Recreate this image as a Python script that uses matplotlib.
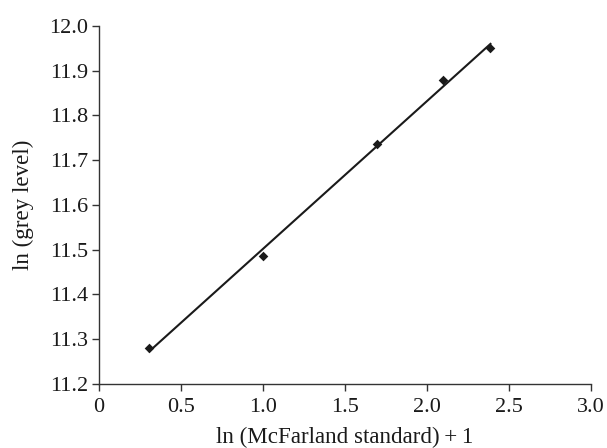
import matplotlib
matplotlib.use("Agg")
import matplotlib.pyplot as plt
import numpy as np

x_vals = [0.307, 1.0, 1.693, 2.099, 2.386]
y_vals = [11.280, 11.486, 11.736, 11.879, 11.950]
x_ticks = [0, 0.5, 1.0, 1.5, 2.0, 2.5, 3.0]
x_tick_labels = ["0", "0.5", "1.0", "1.5", "2.0", "2.5", "3.0"]
y_ticks = [11.2, 11.3, 11.4, 11.5, 11.6, 11.7, 11.8, 11.9, 12.0]
y_tick_labels = ["11.2", "11.3", "11.4", "11.5", "11.6", "11.7", "11.8", "11.9", "12.0"]

plt.rcParams['font.family'] = ['Liberation Serif', 'DejaVu Serif']
fig = plt.figure(figsize=(6.07, 4.48), dpi=100)
ax = fig.add_axes([0.163, 0.143, 0.811, 0.799])

slope, intercept = np.polyfit(x_vals, y_vals, 1)
xf = np.array([x_vals[0], x_vals[-1]])
ax.plot(xf, slope * xf + intercept, color='#1a1a1a', lw=1.5, zorder=2)
ax.scatter(x_vals, y_vals, marker='D', s=24, color='#1a1a1a', zorder=3, linewidths=0)

ax.set_xlim(0, 3.0)
ax.set_ylim(11.2, 12.0)
ax.set_xticks(x_ticks)
ax.set_xticklabels(x_tick_labels)
ax.set_yticks(y_ticks)
ax.set_yticklabels(y_tick_labels)
for s in ['top', 'right']:
    ax.spines[s].set_visible(False)
for s in ['left', 'bottom']:
    ax.spines[s].set_color('#333333')
    ax.spines[s].set_linewidth(1.0)
ax.tick_params(axis='both', direction='out', length=5, width=1.0, color='#333333', labelsize=16, colors='#1a1a1a')
ax.tick_params(axis='x', pad=5)
ax.tick_params(axis='y', pad=3)
ax.set_xlabel("ln (McFarland standard)\u2009+\u20091", fontsize=16.6, color='#1a1a1a', labelpad=7)
ax.set_ylabel("ln (grey level)", fontsize=16.6, color='#1a1a1a', labelpad=11)

fig.savefig("out.png", dpi=100)
